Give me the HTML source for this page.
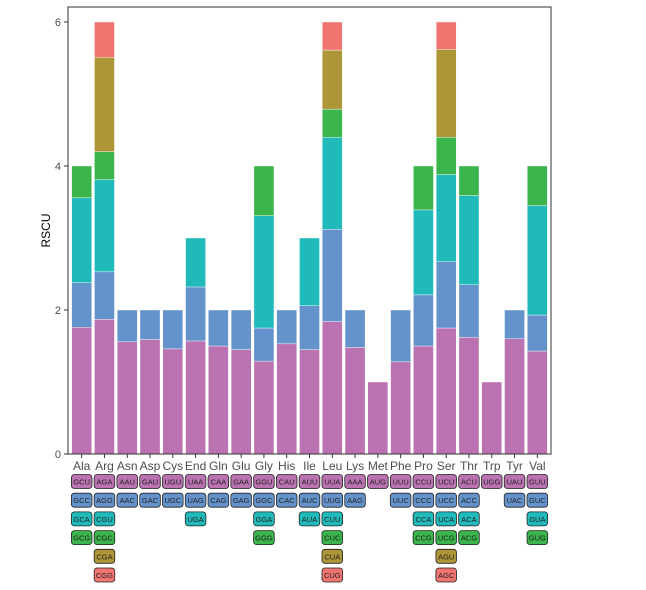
<!DOCTYPE html>
<html><head><meta charset="utf-8"><style>
body{margin:0;background:#fff;}
svg{display:block;font-family:"Liberation Sans",Arial,sans-serif;}
</style></head><body>
<svg id="chart" width="646" height="590" viewBox="0 0 646 590" xmlns="http://www.w3.org/2000/svg"></svg>
<script>
const categories=["Ala","Arg","Asn","Asp","Cys","End","Gln","Glu","Gly","His","Ile","Leu","Lys","Met","Phe","Pro","Ser","Thr","Trp","Tyr","Val"];
const codons=[["GCU","GCC","GCA","GCG"],["AGA","AGG","CGU","CGC","CGA","CGG"],["AAU","AAC"],["GAU","GAC"],["UGU","UGC"],["UAA","UAG","UGA"],["CAA","CAG"],["GAA","GAG"],["GGU","GGC","GGA","GGG"],["CAU","CAC"],["AUU","AUC","AUA"],["UUA","UUG","CUU","CUC","CUA","CUG"],["AAA","AAG"],["AUG"],["UUU","UUC"],["CCU","CCC","CCA","CCG"],["UCU","UCC","UCA","UCG","AGU","AGC"],["ACU","ACC","ACA","ACG"],["UGG"],["UAU","UAC"],["GUU","GUC","GUA","GUG"]];
const rscu=[[1.76,0.62,1.18,0.44],[1.87,0.66,1.28,0.39,1.31,0.49],[1.56,0.44],[1.59,0.41],[1.46,0.54],[1.57,0.75,0.68],[1.50,0.50],[1.45,0.55],[1.29,0.46,1.56,0.69],[1.53,0.47],[1.45,0.61,0.94],[1.84,1.28,1.28,0.39,0.82,0.39],[1.48,0.52],[1.0],[1.28,0.72],[1.50,0.71,1.18,0.61],[1.75,0.92,1.21,0.52,1.22,0.38],[1.62,0.73,1.24,0.41],[1.0],[1.60,0.40],[1.43,0.50,1.52,0.55]];
const yTicks=[0,2,4,6];
const colors=["#BA72B0","#6493CC","#21BABA","#3AB44B","#AD9538","#F07570"];
const svg=document.getElementById('chart');
const NS="http://www.w3.org/2000/svg";
const L=68,R=551,T=7,B=454;
const yScale=v=>B-72*v;
const step=(R-L)/(categories.length-1+1.2);
const xScale=i=>L+step*(0.6+i);
const bw=step*0.88;
function mk(tag,attrs){const e=document.createElementNS(NS,tag);for(const k in attrs)e.setAttribute(k,attrs[k]);svg.appendChild(e);return e;}
let bg=mk('rect',{x:L,y:T,width:R-L,height:B-T,fill:'#fff'});


categories.forEach((c,i)=>{
  let cum=0;
  rscu[i].forEach((v,j)=>{
    const r=mk('rect',{x:xScale(i)-bw/2,y:yScale(cum+v),width:bw,height:yScale(cum)-yScale(cum+v),fill:colors[j],stroke:'#fff','stroke-width':0.4});
    
    
    cum+=v;
  });
  const tk=mk('line',{x1:xScale(i),x2:xScale(i),y1:B,y2:B+4,stroke:'#333','stroke-width':1});
  
  
  const t=mk('text',{x:xScale(i),y:B+16,'text-anchor':'middle','font-size':12,fill:'#4d4d4d'});
  t.textContent=c;
  
  
  codons[i].forEach((cd,j)=>{
    const yy=481.5+j*18.7;
    const b=mk('rect',{x:xScale(i)-10.3,y:yy-7,width:20.6,height:14,rx:3,fill:colors[j],stroke:'#222','stroke-width':0.8});
    
    
    const tt=mk('text',{x:xScale(i),y:yy+3,'text-anchor':'middle','font-size':7.5,fill:'#222'});
    tt.textContent=cd;
    
    
  });
});
yTicks.forEach(v=>{
  const tk=mk('line',{x1:L-4,x2:L,y1:yScale(v),y2:yScale(v),stroke:'#333','stroke-width':1});
  
  
  const t=mk('text',{x:L-7,y:yScale(v)+4,'text-anchor':'end','font-size':11,fill:'#4d4d4d'});
  t.textContent=v;
  
  
});
let bd=mk('rect',{x:L,y:T,width:R-L,height:B-T,fill:'none',stroke:'#333','stroke-width':1});


let yt=mk('text',{x:0,y:0,transform:'translate(50,'+((T+B)/2)+') rotate(-90)','text-anchor':'middle','font-size':12,fill:'#000'});
yt.textContent='RSCU';


</script>
</body></html>
